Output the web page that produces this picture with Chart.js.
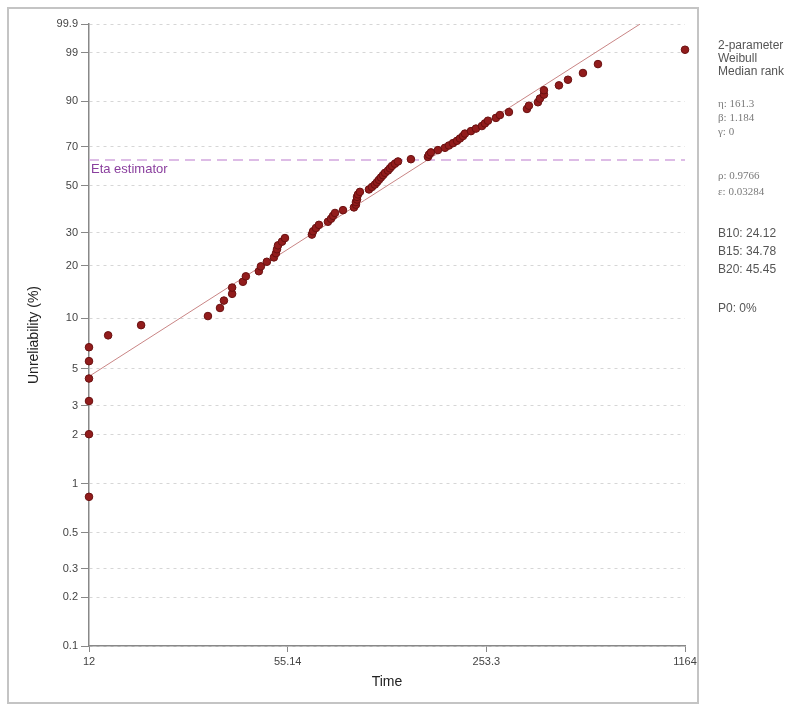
<!DOCTYPE html>
<html>
<head>
<meta charset="utf-8">
<script src="https://cdn.jsdelivr.net/npm/chart.js@4.4.0/dist/chart.umd.min.js"></script>
<style>
html, body { margin: 0; padding: 0; background: #fff; }
#wrap { position: relative; width: 796px; height: 707px; }
</style>
</head>
<body>
<div id="wrap"><canvas id="weibull-chart" width="796" height="707"></canvas></div>
<script>
// failure times and their median-rank unreliability (%)
const failureTimes = [
    12, 12, 12, 12, 12, 12, 13.9, 17.9, 29.9, 32.8,
    33.8, 36.0, 36.0, 39.1, 40.0, 44.2, 44.9, 47.0, 49.6, 50.4,
    50.8, 51.2, 52.8, 54.0, 66.4, 67.0, 68.5, 70.1, 75.1, 76.9,
    78.1, 79.3, 84.3, 91.7, 93.1, 93.1, 93.9, 93.9, 94.6, 96.0,
    102.9, 105.3, 107.7, 109.4, 111.1, 112.8, 114.6, 116.4, 119.1, 120.9,
    122.8, 125.6, 128.6, 142.0, 161.8, 163.1, 165.6, 174.7, 184.4, 190.1,
    196.1, 202.2, 206.9, 211.7, 215.0, 225.1, 233.9, 244.9, 250.6, 256.5,
    272.7, 281.2, 301.3, 346.0, 351.3, 376.4, 382.3, 394.2, 394.2, 442.3,
    474.0, 531.8, 596.8, 1164
];
const unreliability = [
    0.83, 2.01, 3.20, 4.38, 5.57, 6.75, 7.94, 9.12, 10.31, 11.49,
    12.68, 13.86, 15.05, 16.23, 17.42, 18.60, 19.79, 20.97, 22.16, 23.34,
    24.53, 25.71, 26.90, 28.08, 29.27, 30.45, 31.64, 32.82, 34.00, 35.19,
    36.37, 37.56, 38.74, 39.93, 41.11, 42.30, 43.48, 44.67, 45.85, 47.04,
    48.22, 49.41, 50.59, 51.78, 52.96, 54.15, 55.33, 56.52, 57.70, 58.89,
    60.07, 61.26, 62.44, 63.63, 64.81, 66.00, 67.18, 68.36, 69.55, 70.73,
    71.92, 73.10, 74.29, 75.47, 76.66, 77.84, 79.03, 80.21, 81.40, 82.58,
    83.77, 84.95, 86.14, 87.32, 88.51, 89.69, 90.88, 92.06, 93.25, 94.43,
    95.62, 96.80, 97.99, 99.17
];
const fitTimes = [12, 824.8];
const fitUnreliability = [4.51, 99.9];
const etaTimes = [12, 1164];
const etaUnreliability = [63.21, 63.21];

const yTickValues = [0.1, 0.2, 0.3, 0.5, 1, 2, 3, 5, 10, 20, 30, 50, 70, 90, 99, 99.9];
const yTickLabels = ['0.1', '0.2', '0.3', '0.5', '1', '2', '3', '5', '10', '20', '30', '50', '70', '90', '99', '99.9'];
const xTickValues = [12, 55.14, 253.3, 1164];
const xTickLabels = ['12', '55.14', '253.3', '1164'];

const infoLines = [
    { text: '2-parameter', y: 46, serif: false },
    { text: 'Weibull', y: 59, serif: false },
    { text: 'Median rank', y: 72, serif: false },
    { text: 'η: 161.3', y: 104, serif: true },
    { text: 'β: 1.184', y: 118, serif: true },
    { text: 'γ: 0', y: 132, serif: true },
    { text: 'ρ: 0.9766', y: 176, serif: true },
    { text: 'ε: 0.03284', y: 192, serif: true },
    { text: 'B10: 24.12', y: 234, serif: false },
    { text: 'B15: 34.78', y: 252, serif: false },
    { text: 'B20: 45.45', y: 270, serif: false },
    { text: 'P0: 0%', y: 309, serif: false }
];

// weibull paper transforms
const wb = p => Math.log(-Math.log(1 - p / 100));
const lx = t => Math.log(t);
const toPoints = (xs, ys) => xs.map((t, i) => ({ x: lx(t), y: wb(ys[i]) }));

const sansFont = '"Liberation Sans", Arial, sans-serif';

const decorPlugin = {
    id: 'decor',
    beforeDraw(chart) {
        const ctx = chart.ctx;
        ctx.save();
        ctx.strokeStyle = '#c4c4c4';
        ctx.lineWidth = 2;
        ctx.strokeRect(8, 8, 690, 695);
        ctx.restore();
    },
    afterDatasetsDraw(chart) {
        const ctx = chart.ctx;
        const xs = chart.scales.x, ys = chart.scales.y;
        ctx.save();
        ctx.font = '13px ' + sansFont;
        ctx.fillStyle = '#8a3f9e';
        ctx.textBaseline = 'middle';
        ctx.fillText('Eta estimator', xs.getPixelForValue(lx(12)) + 2, ys.getPixelForValue(wb(63.21)) + 9);

        infoLines.forEach(line => {
            ctx.font = line.serif ? '11px "Liberation Serif", serif' : '12px ' + sansFont;
            ctx.fillStyle = line.serif ? '#7a7a7a' : '#555';
            ctx.fillText(line.text, 718, line.y);
        });
        ctx.restore();
    }
};

new Chart(document.getElementById('weibull-chart').getContext('2d'), {
    type: 'scatter',
    data: {
        datasets: [
            {
                label: 'Data',
                data: toPoints(failureTimes, unreliability),
                backgroundColor: '#921c1c',
                borderColor: '#6a1010',
                borderWidth: 1,
                pointRadius: 3.8,
                clip: false,
                order: 0
            },
            {
                type: 'line',
                label: 'Fit',
                data: toPoints(fitTimes, fitUnreliability),
                borderColor: '#c98585',
                borderWidth: 1,
                pointRadius: 0,
                order: 1
            },
            {
                type: 'line',
                label: 'Eta estimator',
                data: toPoints(etaTimes, etaUnreliability),
                borderColor: '#d2a6de',
                borderWidth: 1.5,
                borderDash: [10, 6],
                pointRadius: 0,
                order: 2
            }
        ]
    },
    options: {
        responsive: false,
        animation: false,
        layout: { padding: { top: 24, right: 111, left: 0, bottom: 0 } },
        plugins: {
            legend: { display: false },
            tooltip: { enabled: false }
        },
        scales: {
            x: {
                type: 'linear',
                min: lx(12),
                max: lx(1164),
                afterBuildTicks: scale => { scale.ticks = xTickValues.map(v => ({ value: lx(v) })); },
                afterFit: scale => { scale.height = 61; },
                ticks: {
                    callback: (value, index) => xTickLabels[index],
                    font: { size: 11, family: sansFont },
                    color: '#444',
                    padding: 3,
                    maxRotation: 0
                },
                grid: { drawOnChartArea: false, tickLength: 6, tickColor: '#888', tickWidth: 1 },
                border: { color: '#888', width: 1.5 },
                title: {
                    display: true,
                    text: 'Time',
                    font: { size: 14, family: sansFont },
                    color: '#222',
                    padding: { top: 0, bottom: 16 }
                }
            },
            y: {
                type: 'linear',
                min: wb(0.1),
                max: wb(99.9),
                afterBuildTicks: scale => { scale.ticks = yTickValues.map(v => ({ value: wb(v) })); },
                afterFit: scale => { scale.width = 89; },
                ticks: {
                    callback: (value, index) => yTickLabels[index],
                    font: { size: 11, family: sansFont },
                    color: '#444',
                    padding: 3
                },
                grid: { color: '#d6d6d6', lineWidth: 1, tickLength: 8, tickColor: '#888', tickWidth: 1 },
                border: { color: '#888', width: 1.5, dash: [3, 4] },
                title: {
                    display: true,
                    text: 'Unreliability (%)',
                    font: { size: 14, family: sansFont },
                    color: '#222',
                    padding: { top: 26, bottom: 0 }
                }
            }
        }
    },
    plugins: [decorPlugin]
});
</script>
</body>
</html>
